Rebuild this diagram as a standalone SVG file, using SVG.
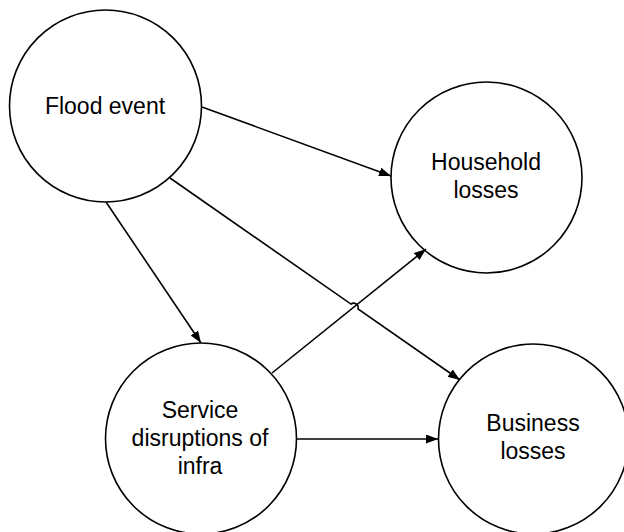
<svg xmlns="http://www.w3.org/2000/svg" width="624" height="532" viewBox="0 0 624 532">
<style>
.node circle{fill:#fff;stroke:#000;stroke-width:1.6}
.node text{font-family:"Liberation Sans",Arial,sans-serif;font-size:23px;fill:#000;text-anchor:middle}
.edge{fill:none;stroke:#000;stroke-width:1.6;marker-end:url(#arr)}
</style>
<defs>
<marker id="arr" markerUnits="userSpaceOnUse" markerWidth="13" markerHeight="9" refX="12" refY="4.5" orient="auto" viewBox="0 0 13 9">
<path d="M0,0 L12,4.5 L0,9 z" fill="#000"/>
</marker>
</defs>
<rect width="624" height="532" fill="#fff"/>
<g id="flood" class="node">
<circle cx="105.5" cy="106" r="96"/>
<text x="105" y="114">Flood event</text>
</g>
<g id="household" class="node">
<circle cx="486.5" cy="177.5" r="95.5"/>
<text x="486" y="170">Household</text>
<text x="486" y="198">losses</text>
</g>
<g id="service" class="node">
<circle cx="201" cy="438.5" r="95.5"/>
<text x="200" y="418">Service</text>
<text x="200" y="446">disruptions of</text>
<text x="200" y="474">infra</text>
</g>
<g id="business" class="node">
<circle cx="533.5" cy="439" r="95"/>
<text x="533" y="431">Business</text>
<text x="533" y="459">losses</text>
</g>
<g id="connectors">
<path class="edge" d="M202,107 L391,176"/>
<path class="edge" d="M170,178 L351,304.1 A4.5,4.5 0 0 1 358,309 L460,380"/>
<path class="edge" d="M106,202 L201,343"/>
<path class="edge" d="M272,373 L426,249"/>
<path class="edge" d="M296,439 L438,439"/>
</g>
</svg>
